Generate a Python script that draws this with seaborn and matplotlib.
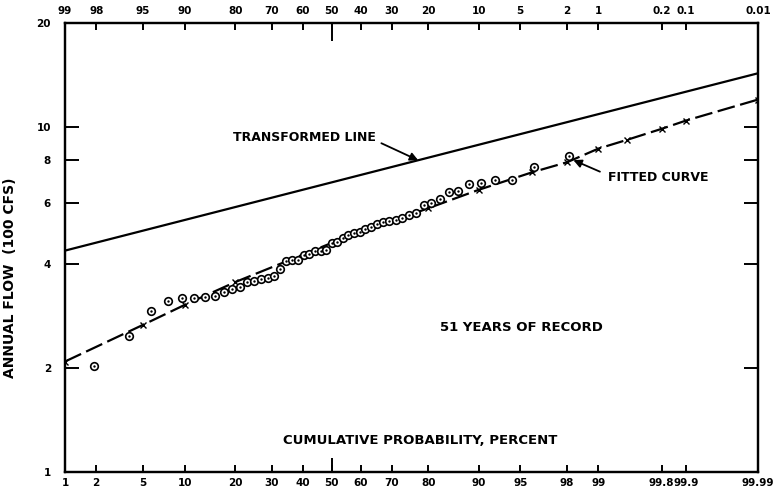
import numpy as np
import matplotlib
matplotlib.use("Agg")
import matplotlib.pyplot as plt
import seaborn as sns
from matplotlib.ticker import FixedLocator, NullLocator
from statistics import NormalDist

# ---------------------------------------------------------
# Data
# ---------------------------------------------------------
plot_pos = [1.92, 3.85, 5.77, 7.69, 9.62, 11.54, 13.46, 15.38, 17.31, 19.23,
            21.15, 23.08, 25.00, 26.92, 28.85, 30.77, 32.69, 34.62, 36.54, 38.46,
            40.38, 42.31, 44.23, 46.15, 48.08, 50.00, 51.92, 53.85, 55.77, 57.69,
            59.62, 61.54, 63.46, 65.38, 67.31, 69.23, 71.15, 73.08, 75.00, 76.92,
            78.85, 80.77, 82.69, 84.62, 86.54, 88.46, 90.38, 92.31, 94.23, 96.15,
            98.08]
annual_flow = [2.03, 2.48, 2.93, 3.14, 3.19, 3.19, 3.21, 3.24, 3.33, 3.38,
               3.43, 3.56, 3.58, 3.62, 3.64, 3.70, 3.88, 4.10, 4.12, 4.12,
               4.26, 4.28, 4.38, 4.38, 4.40, 4.62, 4.65, 4.76, 4.86, 4.94,
               4.97, 5.05, 5.12, 5.22, 5.30, 5.35, 5.38, 5.44, 5.56, 5.62,
               5.94, 6.01, 6.18, 6.49, 6.54, 6.84, 6.90, 7.02, 7.02, 7.67,
               8.24]

fit_prob = [1, 5, 10, 20, 50, 80, 90, 96, 98, 99, 99.5, 99.8, 99.9, 99.99]
fit_flow = [2.09, 2.67, 3.05, 3.55, 4.61, 5.81, 6.57, 7.39, 7.9, 8.65, 9.17, 9.87, 10.43, 12.0]

trans_prob = [1, 99.99]
trans_flow = [4.38, 14.3]

bottom_ticks = [1, 2, 5, 10, 20, 30, 40, 50, 60, 70, 80, 90, 95, 98, 99, 99.8, 99.9, 99.99]
bottom_labels = ["1", "2", "5", "10", "20", "30", "40", "50", "60", "70", "80",
                 "90", "95", "98", "99", "99.8", "99.9", "99.99"]
top_labels = ["99", "98", "95", "90", "80", "70", "60", "50", "40", "30", "20",
              "10", "5", "2", "1", "0.2", "0.1", "0.01"]
y_ticks = [1, 2, 4, 6, 8, 10, 20]
y_labels = ["1", "2", "4", "6", "8", "10", "20"]

# ---------------------------------------------------------
# Normal probability scale
# ---------------------------------------------------------
_nd = NormalDist()


def prob_fwd(p):
    p = np.clip(np.asarray(p, dtype=float), 1e-9, 100 - 1e-9)
    return np.vectorize(lambda v: _nd.inv_cdf(v / 100.0) if np.isfinite(v) else np.nan,
                        otypes=[float])(p)


def prob_inv(z):
    z = np.asarray(z, dtype=float)
    return np.vectorize(lambda v: 100.0 * _nd.cdf(v) if np.isfinite(v) else np.nan,
                        otypes=[float])(z)


sns.set_style("ticks")
plt.rcParams["font.family"] = ["DejaVu Sans"]
plt.rcParams["font.weight"] = "bold"
plt.rcParams["text.color"] = "black"
plt.rcParams["axes.labelcolor"] = "black"
plt.rcParams["axes.edgecolor"] = "black"
plt.rcParams["xtick.color"] = "black"
plt.rcParams["ytick.color"] = "black"

fig = plt.figure(figsize=(7.74, 4.96), dpi=100)
ax = fig.add_axes([65 / 774, 24 / 496, 693 / 774, 449 / 496])
ax.set_xscale("function", functions=(prob_fwd, prob_inv))
ax.set_yscale("log")
ax.set_xlim(1, 99.99)
ax.set_ylim(1, 20)

# transformed line
sns.lineplot(x=trans_prob, y=trans_flow, ax=ax, color="black", linewidth=1.6)

# fitted curve
sns.lineplot(x=fit_prob, y=fit_flow, ax=ax, color="black", linewidth=1.6,
             linestyle=(0, (8, 2.5)), marker="x", markersize=4,
             markeredgewidth=1.0, markeredgecolor="black")

# observed values
sns.scatterplot(x=plot_pos, y=annual_flow, ax=ax, marker="o", s=30,
                color="white", edgecolor="black", linewidth=1.2, zorder=3)
sns.scatterplot(x=plot_pos, y=annual_flow, ax=ax, marker="o", s=3,
                color="black", linewidth=0, zorder=4)

# ---------------------------------------------------------
# Axes, ticks
# ---------------------------------------------------------
for sp in ax.spines.values():
    sp.set_linewidth(1.6)
    sp.set_visible(True)

ax.xaxis.set_major_locator(FixedLocator(bottom_ticks))
ax.set_xticklabels(bottom_labels, fontsize=7.5, fontweight="bold")
ax.xaxis.remove_overlapping_locs = False
ax.xaxis.set_minor_locator(FixedLocator([50]))
ax.tick_params(axis="x", which="major", direction="in", length=5, width=1.4,
               pad=4, top=False)
ax.tick_params(axis="x", which="minor", direction="in", length=10, width=1.4,
               top=False, labelbottom=False)

ax.yaxis.set_major_locator(FixedLocator(y_ticks))
ax.yaxis.set_minor_locator(NullLocator())
ax.set_yticklabels(y_labels, fontsize=7.5, fontweight="bold")
ax.tick_params(axis="y", which="major", direction="in", length=10, width=1.4,
               right=True, pad=10)
ax.set_ylabel("ANNUAL FLOW  (100 CFS)", fontsize=10, fontweight="bold")
ax.yaxis.set_label_coords(-0.069, 0.432)
ax.set_xlabel("")

ax2 = ax.twiny()
ax2.set_xscale("function", functions=(prob_fwd, prob_inv))
ax2.set_xlim(1, 99.99)
ax2.xaxis.set_major_locator(FixedLocator(bottom_ticks))
ax2.set_xticklabels(top_labels, fontsize=7.5, fontweight="bold")
ax2.xaxis.remove_overlapping_locs = False
ax2.xaxis.set_minor_locator(FixedLocator([50]))
ax2.tick_params(axis="x", which="major", direction="in", length=5, width=1.4, pad=5)
ax2.tick_params(axis="x", which="minor", direction="in", length=13, width=1.4,
                labeltop=False)
for sp in ax2.spines.values():
    sp.set_linewidth(1.6)

# ---------------------------------------------------------
# Annotations
# ---------------------------------------------------------
ax.annotate("TRANSFORMED LINE", xy=(77.5, 8.0), xytext=(0.242, 0.744),
            textcoords="axes fraction", fontsize=9, fontweight="bold",
            va="center", ha="left",
            arrowprops=dict(arrowstyle="-|>", color="black", lw=1.3,
                            mutation_scale=12, shrinkA=2, shrinkB=0,
                            relpos=(1.0, 0.3)))
ax.annotate("FITTED CURVE", xy=(98.1, 8.1), xytext=(0.784, 0.655),
            textcoords="axes fraction", fontsize=9, fontweight="bold",
            va="center", ha="left",
            arrowprops=dict(arrowstyle="-|>", color="black", lw=1.3,
                            mutation_scale=12, shrinkA=4, shrinkB=3,
                            relpos=(0.0, 0.7)))
ax.text(0.659, 0.321, "51 YEARS OF RECORD", transform=ax.transAxes,
        fontsize=9.5, fontweight="bold", ha="center", va="center")
ax.text(0.512, 0.071, "CUMULATIVE PROBABILITY, PERCENT", transform=ax.transAxes,
        fontsize=9.5, fontweight="bold", ha="center", va="center")

fig.savefig("out.png", dpi=100)
